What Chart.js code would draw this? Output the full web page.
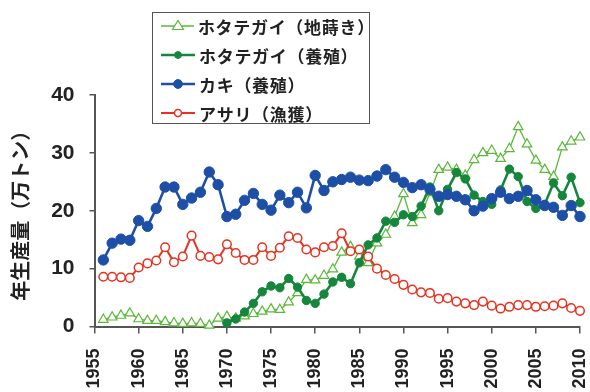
<!DOCTYPE html>
<html>
<head>
<meta charset="utf-8">
<script src="https://cdn.jsdelivr.net/npm/chart.js@4/dist/chart.umd.min.js"></script>
<style>
  body { margin: 0; background: #fff; }
  #wrap { position: relative; width: 590px; height: 392px; }
  #legend {
    position: absolute; left: 152px; top: 12px; width: 218px; height: 112px;
    border: 1.5px solid #555; background: #fff; box-sizing: border-box;
    font: bold 17px "Noto Sans CJK JP", sans-serif; color: #222; letter-spacing: 0.7px;
  }
  .row { position: absolute; left: 0; height: 24px; display: flex; align-items: center; }
  .row svg { margin-left: 8px; margin-right: 4px; }
</style>
</head>
<body>
<div id="wrap">
  <canvas id="c" width="590" height="392"></canvas>
  <div id="legend"></div>
</div>
<script>
const years = [
  1956, 1957, 1958, 1959, 1960, 1961, 1962, 1963, 1964, 1965,
  1966, 1967, 1968, 1969, 1970, 1971, 1972, 1973, 1974, 1975,
  1976, 1977, 1978, 1979, 1980, 1981, 1982, 1983, 1984, 1985,
  1986, 1987, 1988, 1989, 1990, 1991, 1992, 1993, 1994, 1995,
  1996, 1997, 1998, 1999, 2000, 2001, 2002, 2003, 2004, 2005,
  2006, 2007, 2008, 2009, 2010
];

// ホタテガイ（地蒔き）
const hotateJimaki = [
  1.2, 1.6, 1.9, 2.3, 1.3, 1.0, 1.0, 0.8, 0.6, 0.5,
  0.6, 0.5, 0.2, 1.4, 1.7, 1.4, 1.8, 2.2, 2.6, 3.0,
  2.9, 4.2, 5.8, 8.1, 8.0, 8.8, 9.9, 12.8, 13.8, 12.1,
  11.0, 14.4, 15.9, 19.0, 22.9, 17.9, 19.3, 23.1, 27.1, 27.5,
  27.1, 26.1, 28.8, 30.0, 30.4, 29.0, 30.7, 34.5, 31.5, 28.7,
  27.1, 25.9, 31.0, 32.0, 32.7
];

// ホタテガイ（養殖）
const hotateYoshoku = [
  null, null, null, null, null, null, null, null, null, null,
  null, null, null, null, 0.6, 1.3, 2.5, 4.0, 6.0, 7.0,
  6.7, 8.3, 6.8, 4.5, 4.0, 5.6, 7.7, 8.5, 7.4, 11.0,
  14.1, 15.3, 18.2, 18.0, 19.3, 19.0, 20.8, 24.1, 20.0, 23.7,
  26.6, 25.5, 22.7, 21.6, 21.1, 23.6, 27.2, 25.9, 21.6, 20.4,
  21.1, 24.8, 22.6, 25.8, 21.4
];

// カキ（養殖）
const kaki = [
  11.5, 14.4, 15.1, 14.9, 18.3, 17.3, 20.4, 24.1, 24.1, 21.1,
  22.2, 23.2, 26.7, 24.5, 19.0, 19.4, 21.8, 23.0, 21.1, 20.1,
  22.7, 21.4, 23.2, 20.5, 26.1, 23.5, 25.0, 25.4, 25.8, 25.3,
  25.2, 26.0, 27.1, 25.8, 24.9, 24.0, 24.5, 23.7, 22.5, 22.8,
  22.5, 21.9, 20.0, 20.8, 22.1, 23.2, 22.1, 22.5, 23.5, 21.9,
  20.9, 20.6, 19.2, 20.9, 19.0
];

// アサリ（漁獲）
const asari = [
  8.6, 8.6, 8.5, 8.4, 10.2, 10.9, 11.4, 13.7, 11.1, 12.1,
  15.7, 12.2, 12.0, 11.6, 14.2, 12.7, 11.5, 11.5, 13.7, 12.2,
  13.6, 15.6, 15.3, 13.3, 12.8, 13.7, 13.9, 16.1, 13.0, 13.3,
  12.1, 10.0, 8.9, 8.2, 7.2, 6.4, 5.9, 5.8, 4.8, 4.9,
  4.3, 4.0, 3.7, 4.3, 3.6, 3.1, 3.4, 3.7, 3.7, 3.4,
  3.5, 3.6, 4.0, 3.2, 2.7
];

const seriesNames = ["ホタテガイ（地蒔き）", "ホタテガイ（養殖）", "カキ（養殖）", "アサリ（漁獲）"];
const seriesValues = [hotateJimaki, hotateYoshoku, kaki, asari];
const yTitle = "年生産量（万トン）";

const styles = [
  { color: "#5bb83a", style: "triangle", radius: 5.5, fill: "#fff", width: 1.3, mwidth: 1.2, order: 3 },
  { color: "#15863c", style: "circle", radius: 4.2, fill: "#15863c", width: 2.6, mwidth: 1, order: 2 },
  { color: "#1d4fa6", style: "circle", radius: 5.2, fill: "#1d4fa6", width: 2.6, mwidth: 1, order: 1 },
  { color: "#e8321f", style: "circle", radius: 4.3, fill: "#fff", width: 2, mwidth: 1.5, order: 0 }
];

const datasets = seriesValues.map(function (vals, i) {
  const s = styles[i];
  return {
    label: seriesNames[i],
    data: years.map(function (yr, j) { return { x: yr, y: vals[j] }; }),
    borderColor: s.color,
    backgroundColor: s.fill,
    borderWidth: s.width,
    pointStyle: s.style,
    pointRadius: s.radius,
    pointBorderWidth: s.mwidth,
    pointBorderColor: s.color,
    pointBackgroundColor: s.fill,
    tension: 0,
    spanGaps: false,
    clip: false,
    order: s.order
  };
});

const tickFont = { family: "'Liberation Sans', Arial, sans-serif", weight: "bold" };

new Chart(document.getElementById("c"), {
  type: "line",
  data: { datasets: datasets },
  options: {
    responsive: false,
    animation: false,
    layout: { padding: { top: 95, right: 10, left: 0, bottom: 0 } },
    plugins: { legend: { display: false }, tooltip: { enabled: false } },
    scales: {
      x: {
        type: "linear",
        min: 1955,
        max: 2010,
        grid: { display: true, drawOnChartArea: false, drawTicks: true, tickLength: 7, color: "#555", lineWidth: 1.5 },
        border: { color: "#555", width: 2 },
        ticks: {
          stepSize: 5, autoSkip: false, minRotation: 90, maxRotation: 90, padding: 15,
          color: "#222", font: Object.assign({ size: 18 }, tickFont),
          callback: function (v) { return String(v); }
        },
        afterFit: function (scale) {
          scale.height = 65.5;
          scale.paddingLeft = 0;
          scale.paddingRight = 0;
        }
      },
      y: {
        min: 0,
        max: 40,
        grid: { display: true, drawOnChartArea: false, drawTicks: true, tickLength: 5, color: "#555", lineWidth: 1.5 },
        border: { color: "#555", width: 2 },
        ticks: { stepSize: 10, padding: 15, color: "#222", font: Object.assign({ size: 21 }, tickFont) },
        title: {
          display: true, text: yTitle, color: "#222", padding: { top: 8, bottom: 0 },
          font: { family: "'Noto Sans CJK JP', sans-serif", size: 20, weight: "bold" }
        },
        afterFit: function (scale) {
          scale.width = 94.5;
          scale.paddingTop = 0;
          scale.paddingBottom = 0;
        }
      }
    }
  }
});

// legend box drawn over the chart, built from the series arrays
const legend = document.getElementById("legend");
const rowTops = [1, 30, 59, 88];
seriesNames.forEach(function (name, i) {
  const s = styles[i];
  let marker;
  if (s.style === "triangle") {
    marker = '<polygon points="17,6.5 22.5,15.5 11.5,15.5" fill="#fff" stroke="' + s.color + '" stroke-width="1.2"/>';
  } else {
    marker = '<circle cx="17" cy="12" r="' + (s.radius - 0.8) + '" fill="' + s.fill + '" stroke="' + s.color + '" stroke-width="' + s.mwidth + '"/>';
  }
  const row = document.createElement("div");
  row.className = "row";
  row.style.top = rowTops[i] + "px";
  row.innerHTML =
    '<svg width="34" height="24"><line x1="0" y1="12" x2="34" y2="12" stroke="' + s.color +
    '" stroke-width="' + s.width + '"/>' + marker + '</svg><span>' + name + '</span>';
  legend.appendChild(row);
});
</script>
</body>
</html>
